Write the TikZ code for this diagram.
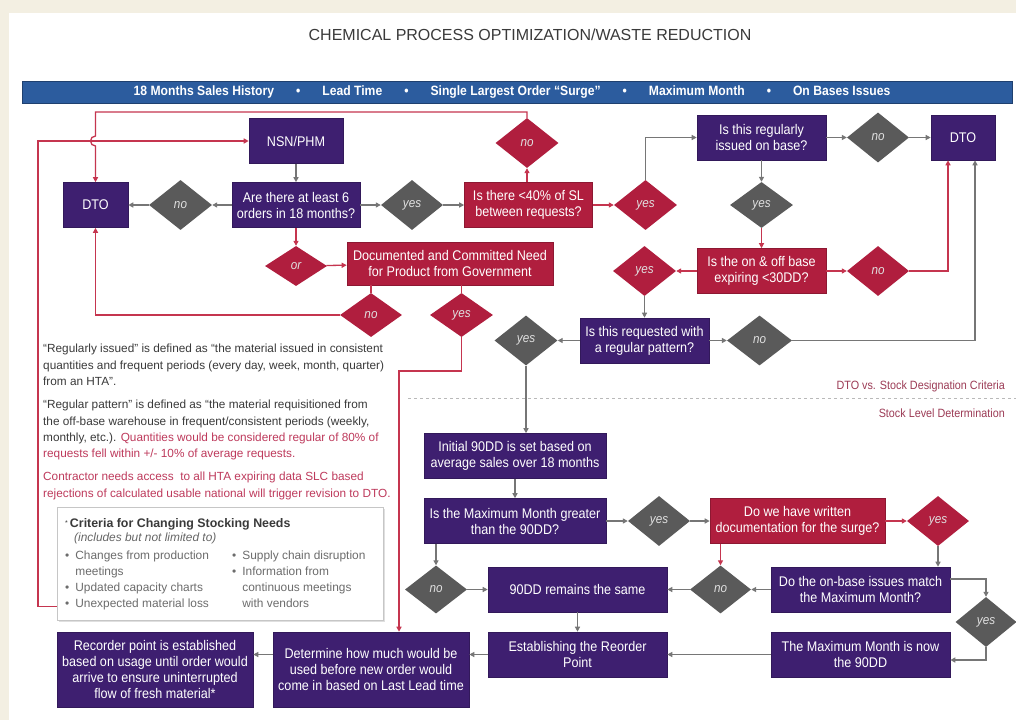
\documentclass[tikz,border=0pt]{standalone}
\usepackage{fontspec}
\setmainfont{Liberation Sans}
\newfontfamily\nfont{Liberation Sans}[FakeStretch=0.9]
\usetikzlibrary{shapes.geometric,arrows.meta,shadows,calc}
\definecolor{purp}{HTML}{3E1F70}
\definecolor{crim}{HTML}{B01E3E}
\definecolor{dg}{HTML}{5A5A5A}
\definecolor{lg}{HTML}{767676}
\definecolor{redln}{HTML}{C5354F}
\definecolor{bann}{HTML}{2C5C9E}
\definecolor{beige}{HTML}{F3EFE2}
\definecolor{txt}{HTML}{3A3A3A}
\definecolor{rtxt}{HTML}{BE3A5C}
\definecolor{lab}{HTML}{9C3B55}
\begin{document}
\begin{tikzpicture}[x=1pt,y=-1pt,
 box/.style={rectangle, draw=#1!80!black, fill=#1, line width=0.6pt, text=white, align=center, inner sep=0pt, font=\nfont\fontsize{14}{16}\selectfont},
 pbox/.style={box=purp},
 rbox/.style={box=crim},
 dia/.style={diamond, fill=#1, draw=none, inner sep=0pt, text=white!88!black, font=\nfont\itshape\fontsize{13}{15}\selectfont},
 gd/.style={dia=dg}, rd/.style={dia=crim},
 ga/.style={draw=lg, line width=1.3pt, -{Triangle[length=5pt,width=5pt]}},
 gline/.style={draw=lg, line width=1.3pt},
 ra/.style={draw=redln, line width=1.3pt, -{Triangle[length=5pt,width=5pt]}},
 rline/.style={draw=redln, line width=1.3pt},
 para/.style={anchor=north west, inner sep=0pt, align=left, text=txt, font=\fontsize{11.8}{16.3}\selectfont},
 crittext/.style={anchor=north west, inner sep=0pt, text=gray!85!black, font=\fontsize{11.9}{16}\selectfont},
]
\useasboundingbox (0,0) rectangle (1016,720);
\fill[beige] (0,0) rectangle (1016,720);
\fill[white] (9,13) rectangle (1016,720);

% title and banner
\node[text=txt, font=\fontsize{16}{19}\selectfont] (title) at (530,35) {CHEMICAL PROCESS OPTIMIZATION/WASTE REDUCTION};
\node[fill=bann, draw=bann!70!black, line width=0.8pt, minimum width=990pt, minimum height=22pt, inner sep=0pt] (banner) at (517,92) {};
\node[text=white, font=\nfont\bfseries\fontsize{13.5}{15}\selectfont] (bantext) at (512,92) {18 Months Sales History\hspace{22pt}\textbullet\hspace{22pt}Lead Time\hspace{22pt}\textbullet\hspace{22pt}Single Largest Order “Surge”\hspace{22pt}\textbullet\hspace{22pt}Maximum Month\hspace{22pt}\textbullet\hspace{22pt}On Bases Issues};

% top section nodes
\node[pbox, minimum width=94pt, minimum height=45pt] (nsn) at (296,141) {NSN/PHM};
\node[pbox, minimum width=65pt, minimum height=45pt] (dtoL) at (95.5,205) {DTO};
\node[gd, minimum width=63pt, minimum height=50pt] (noL) at (180.5,205) {no};
\node[pbox, minimum width=128pt, minimum height=45pt] (q6) at (296,205) {Are there at least 6\\orders in 18 months?};
\node[gd, minimum width=62pt, minimum height=50pt] (yes1) at (412,205) {yes};
\node[rbox, minimum width=128pt, minimum height=45pt] (q40) at (528.5,205) {Is there <40\% of SL\\between requests?};
\node[rd, minimum width=63pt, minimum height=50pt] (no40) at (527,143) {no};
\node[rd, minimum width=63pt, minimum height=50pt] (yes40) at (645.5,205) {yes};
\node[pbox, minimum width=129pt, minimum height=45pt] (qreg) at (761.5,137.5) {Is this regularly\\issued on base?};
\node[gd, minimum width=62pt, minimum height=50pt] (noreg) at (878,137.5) {no};
\node[pbox, minimum width=64pt, minimum height=45pt] (dtoR) at (963,137.5) {DTO};
\node[gd, minimum width=63pt, minimum height=46pt] (yesreg) at (761.5,205) {yes};
\node[rbox, minimum width=129pt, minimum height=45pt] (qexp) at (761.5,271) {Is the on \& off base\\expiring <30DD?};
\node[rd, minimum width=62pt, minimum height=50pt] (noexp) at (878,271) {no};
\node[rd, minimum width=63pt, minimum height=50pt] (yesexp) at (644.5,271) {yes};
\node[pbox, minimum width=129pt, minimum height=45pt] (qpat) at (644.5,340.5) {Is this requested with\\a regular pattern?};
\node[gd, minimum width=65pt, minimum height=50pt] (nopat) at (759.5,340.5) {no};
\node[gd, minimum width=63pt, minimum height=50pt] (yespat) at (526,340.5) {yes};
\node[rd, minimum width=62pt, minimum height=40pt] (orD) at (296,266) {or};
\node[rbox, minimum width=206pt, minimum height=43pt] (doc) at (450,263.5) {Documented and Committed Need\\for Product from Government};
\node[rd, minimum width=62pt, minimum height=44pt] (nodoc) at (371,315) {no};
\node[rd, minimum width=63pt, minimum height=44pt] (yesdoc) at (461.5,315) {yes};

% bottom section nodes
\node[pbox, minimum width=182pt, minimum height=45pt] (init) at (515,456) {Initial 90DD is set based on\\average sales over 18 months};
\node[pbox, minimum width=182pt, minimum height=45pt] (qmax) at (515,521) {Is the Maximum Month greater\\than the 90DD?};
\node[gd, minimum width=62pt, minimum height=50pt] (yesmax) at (659,521) {yes};
\node[rbox, minimum width=175pt, minimum height=45pt] (qdoc) at (797.5,521) {Do we have written\\documentation for the surge?};
\node[rd, minimum width=62pt, minimum height=50pt] (yessurge) at (938,521) {yes};
\node[pbox, minimum width=179pt, minimum height=45pt] (qon) at (860.5,589.5) {Do the on-base issues match\\the Maximum Month?};
\node[gd, minimum width=61pt, minimum height=48pt] (nomid) at (720.5,589.5) {no};
\node[pbox, minimum width=179pt, minimum height=45pt] (same) at (577.5,589.5) {90DD remains the same};
\node[gd, minimum width=62pt, minimum height=48pt] (noleft) at (436,589.5) {no};
\node[pbox, minimum width=179pt, minimum height=45pt] (reord) at (577.5,654.5) {Establishing the Reorder\\Point};
\node[pbox, minimum width=179pt, minimum height=45pt] (maxnow) at (860.5,654.5) {The Maximum Month is now\\the 90DD};
\node[gd, minimum width=61pt, minimum height=50pt] (yesright) at (986,622) {yes};
\node[pbox, minimum width=196pt, minimum height=75pt] (det) at (371,669.5) {Determine how much would be\\used before new order would\\come in based on Last Lead time};
\node[pbox, minimum width=196pt, minimum height=75pt] (rec) at (155,669.5) {Recorder point is established\\based on usage until order would\\arrive to ensure uninterrupted\\flow of fresh material*};

% left text
\node[para] (p1) at (43,344) {“Regularly issued” is defined as “the material issued in consistent\\quantities and frequent periods (every day, week, month, quarter)\\from an HTA”.};
\node[para] (p2) at (43,400) {“Regular pattern” is defined as “the material requisitioned from\\the off-base warehouse in frequent/consistent periods (weekly,\\monthly, etc.). \textcolor{rtxt}{Quantities would be considered regular of 80\% of}\\\textcolor{rtxt}{requests fell within +/- 10\% of average requests.}};
\node[para, text=rtxt] (p3) at (43,472) {Contractor needs access\ \ to all HTA expiring data SLC based\\rejections of calculated usable national will trigger revision to DTO.};

% criteria box
\node[draw=gray!45, fill=white, drop shadow={opacity=0.25,shadow xshift=2pt,shadow yshift=-2pt}, minimum width=326pt, minimum height=113pt, inner sep=0pt] (crit) at (220,563.5) {};
\node[anchor=west, inner sep=0pt, text=txt, font=\fontsize{12.4}{14}\selectfont] (ct) at (65,524) {\raisebox{2pt}{\scriptsize *}\,\textbf{Criteria for Changing Stocking Needs}};
\node[anchor=west, inner sep=0pt, text=gray!80!black, font=\itshape\fontsize{11.9}{14}\selectfont] (cs) at (74,538) {(includes but not limited to)};
\node[crittext] (c1) at (65,548) {\begin{tabular}{@{}l@{\hspace{6pt}}l@{}}\textbullet & Changes from production\\ & meetings\\ \textbullet & Updated capacity charts\\ \textbullet & Unexpected material loss\end{tabular}};
\node[crittext] (c2) at (232,548) {\begin{tabular}{@{}l@{\hspace{6pt}}l@{}}\textbullet & Supply chain disruption\\ \textbullet & Information from\\ & continuous meetings\\ & with vendors\end{tabular}};

% section labels
\coordinate (sepA) at (408,398);
\coordinate (sepB) at (1016,398);
\draw[dashed, draw=gray!55, line width=0.7pt] (sepA) -- (sepB);
\node[anchor=east, inner sep=0pt, text=lab, font=\nfont\fontsize{12}{14}\selectfont] (lab1) at (1005,386) {DTO vs. Stock Designation Criteria};
\node[anchor=east, inner sep=0pt, text=lab, font=\nfont\fontsize{12}{14}\selectfont] (lab2) at (1005,413) {Stock Level Determination};

% top connectors
\draw[ga] (nsn) -- (q6);
\draw[ga] (q6) -- (noL);
\draw[ga] (noL) -- (dtoL);
\draw[ga] (q6) -- (yes1);
\draw[ga] (yes1) -- (q40);
\draw[ra] (q40) -- (yes40);
\draw[ra] (q40.north -| no40.south) -- (no40.south);
\draw[ga] (yes40.north) |- (qreg.west);
\draw[ga] (qreg) -- (noreg);
\draw[ga] (noreg) -- (dtoR);
\draw[ga] (qreg) -- (yesreg);
\draw[ra] (yesreg) -- (qexp);
\draw[ra] (qexp) -- (noexp);
\draw[ra] (noexp.east) -| ([xshift=-15pt]dtoR.south);
\draw[ra] (qexp) -- (yesexp);
\draw[ga] (yesexp) -- (qpat);
\draw[ga] (qpat) -- (nopat);
\draw[ga] (nopat.east) -| ([xshift=12pt]dtoR.south);
\draw[ga] (qpat) -- (yespat);
\draw[ga] (yespat.south) -- (yespat.south |- init.north);
\draw[ra] (q6) -- (orD);
\draw[ra] (orD) -- (doc);
\draw[rline] (doc.south -| nodoc.north) -- (nodoc.north);
\draw[rline] (doc.south -| yesdoc.north) -- (yesdoc.north);
\draw[ra] (nodoc.west) -| (dtoL.south);
\coordinate (rb) at (399,371);
\draw[ra] (yesdoc.south) |- (rb) -- (rb |- det.north);
\coordinate (hopT) at (95.5,112);
\coordinate (hopA) at (95.5,136);
\draw[ra] (no40.north) |- (hopT) -- (hopA) arc[start angle=270,end angle=90,radius=5] -- (dtoL.north);
\coordinate (lc) at (38,141);
\draw[ra] ([yshift=14pt]crit.south west) -| (lc) -- (nsn.west);

% bottom connectors
\draw[ga] (init) -- (qmax);
\draw[ga] (qmax) -- (yesmax);
\draw[ga] (yesmax) -- (qdoc);
\draw[ra] (qdoc) -- (yessurge);
\draw[ga] (yessurge.south) -- (yessurge.south |- qon.north);
\draw[ra] (qdoc.south -| nomid.north) -- (nomid.north);
\draw[ga] (qon) -- (nomid);
\draw[ga] (nomid) -- (same);
\draw[ga] (qmax.south -| noleft.north) -- (noleft.north);
\draw[ga] (noleft) -- (same);
\draw[ga] (same) -- (reord);
\draw[ga] ([yshift=10.5pt]qon.east) -| (yesright.north);
\draw[ga] (yesright.south) |- ([yshift=-5.5pt]maxnow.east);
\draw[ga] (maxnow) -- (reord);
\draw[ga] (reord.west) -- (reord.west -| det.east);
\draw[ga] (det.west |- reord.west) -- (rec.east |- reord.west);
\end{tikzpicture}
\end{document}
